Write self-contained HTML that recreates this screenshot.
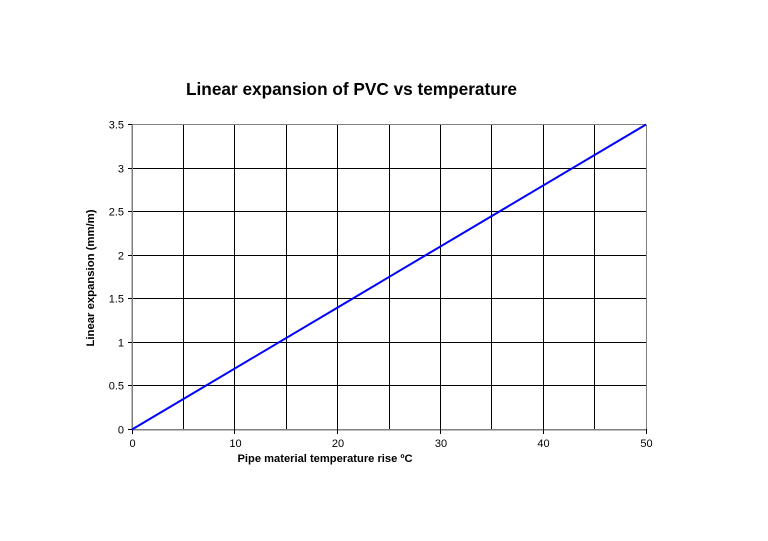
<!DOCTYPE html>
<html><head><meta charset="utf-8"><style>
html,body{margin:0;padding:0;background:#fff;}
svg{display:block;}
text{font-family:"Liberation Sans",Arial,sans-serif;fill:#000;}
</style></head><body>
<svg width="768" height="541" viewBox="0 0 768 541" xmlns="http://www.w3.org/2000/svg">
<rect width="768" height="541" fill="#fff"/>
<text x="351.5" y="95" font-size="17.5" font-weight="bold" text-anchor="middle" textLength="331" lengthAdjust="spacingAndGlyphs">Linear expansion of PVC vs temperature</text>
<g stroke="#000" stroke-width="1">
<line x1="132" y1="168.5" x2="646" y2="168.5"/>
<line x1="132" y1="211.5" x2="646" y2="211.5"/>
<line x1="132" y1="255.5" x2="646" y2="255.5"/>
<line x1="132" y1="298.5" x2="646" y2="298.5"/>
<line x1="132" y1="342.5" x2="646" y2="342.5"/>
<line x1="132" y1="385.5" x2="646" y2="385.5"/>
<line x1="183.5" y1="125" x2="183.5" y2="429"/>
<line x1="234.5" y1="125" x2="234.5" y2="429"/>
<line x1="286.5" y1="125" x2="286.5" y2="429"/>
<line x1="337.5" y1="125" x2="337.5" y2="429"/>
<line x1="389.5" y1="125" x2="389.5" y2="429"/>
<line x1="440.5" y1="125" x2="440.5" y2="429"/>
<line x1="491.5" y1="125" x2="491.5" y2="429"/>
<line x1="543.5" y1="125" x2="543.5" y2="429"/>
<line x1="594.5" y1="125" x2="594.5" y2="429"/>
</g>
<g stroke="#808080" stroke-width="1" fill="none">
<line x1="132" y1="124.5" x2="646" y2="124.5"/>
<line x1="646.5" y1="124.5" x2="646.5" y2="429"/>
</g>
<g stroke="#808080" stroke-width="1.5" shape-rendering="crispEdges">
<line x1="132" y1="124" x2="132" y2="429.5"/>
<line x1="132" y1="429.5" x2="646" y2="429.5"/>
</g>
<g stroke="#000" stroke-width="1">
<line x1="128" y1="124.5" x2="132" y2="124.5"/>
<line x1="128" y1="168.5" x2="132" y2="168.5"/>
<line x1="128" y1="211.5" x2="132" y2="211.5"/>
<line x1="128" y1="255.5" x2="132" y2="255.5"/>
<line x1="128" y1="298.5" x2="132" y2="298.5"/>
<line x1="128" y1="342.5" x2="132" y2="342.5"/>
<line x1="128" y1="385.5" x2="132" y2="385.5"/>
<line x1="128" y1="429.5" x2="132" y2="429.5"/>
<line x1="132.5" y1="429" x2="132.5" y2="434"/>
<line x1="234.5" y1="429" x2="234.5" y2="434"/>
<line x1="337.5" y1="429" x2="337.5" y2="434"/>
<line x1="440.5" y1="429" x2="440.5" y2="434"/>
<line x1="543.5" y1="429" x2="543.5" y2="434"/>
<line x1="646.5" y1="429" x2="646.5" y2="434"/>
</g>
<line x1="132" y1="429.5" x2="646" y2="124.5" stroke="#0000ff" stroke-width="2"/>
<g font-size="11" text-anchor="end">
<text x="124" y="128.5">3.5</text>
<text x="124" y="172.5">3</text>
<text x="124" y="215.5">2.5</text>
<text x="124" y="259.5">2</text>
<text x="124" y="302.5">1.5</text>
<text x="124" y="346.5">1</text>
<text x="124" y="389.5">0.5</text>
<text x="124" y="433.5">0</text>
</g>
<g font-size="11" text-anchor="middle">
<text x="132.5" y="447">0</text>
<text x="235.5" y="447">10</text>
<text x="338" y="447">20</text>
<text x="441" y="447">30</text>
<text x="543.5" y="447">40</text>
<text x="646.5" y="447">50</text>
</g>
<text x="325" y="462" font-size="11" font-weight="bold" text-anchor="middle" textLength="175" lengthAdjust="spacingAndGlyphs">Pipe material temperature rise ºC</text>
<text transform="translate(94,278) rotate(-90)" font-size="11" font-weight="bold" text-anchor="middle" textLength="137" lengthAdjust="spacingAndGlyphs">Linear expansion (mm/m)</text>
</svg>
</body></html>
